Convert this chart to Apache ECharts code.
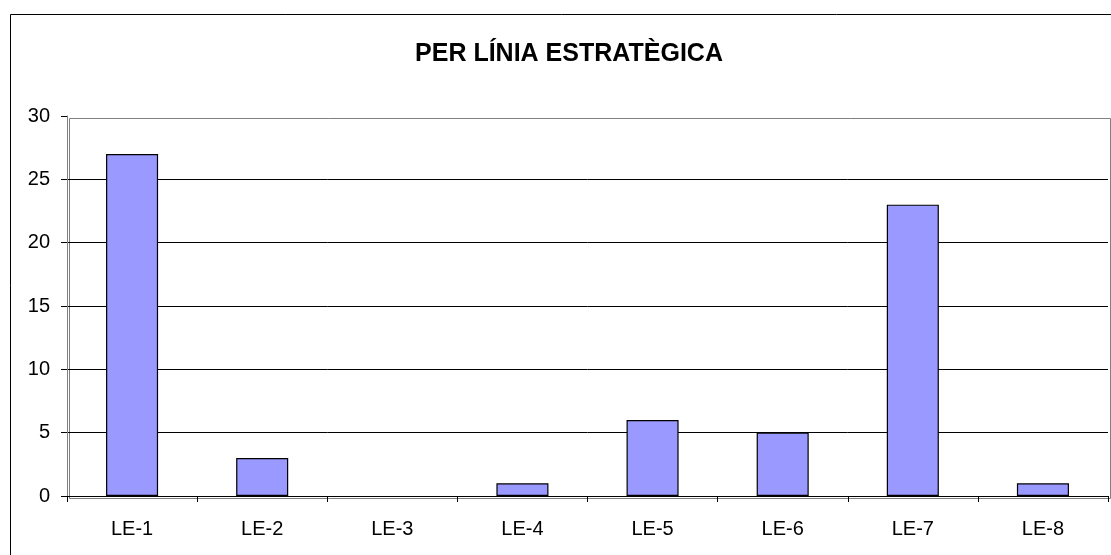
<!DOCTYPE html>
<html>
<head>
<meta charset="utf-8">
<script src="https://cdn.jsdelivr.net/npm/echarts@6/dist/echarts.min.js"></script>
<style>
html,body{margin:0;padding:0;background:#fff;}
#chart{width:1111px;height:555px;}
</style>
</head>
<body>
<div id="chart"></div>
<script>
var titleText = 'PER LÍNIA ESTRATÈGICA';
var categories = ['LE-1','LE-2','LE-3','LE-4','LE-5','LE-6','LE-7','LE-8'];
var values = [27, 3, 0, 1, 6, 5, 23, 1];
var yTicks = [0, 5, 10, 15, 20, 25, 30];

var barData = values.map(function (v) {
  return v === 0 ? {value: v, itemStyle: {borderWidth: 0}} : v;
});

var chart = echarts.init(document.getElementById('chart'), null, {renderer:'canvas'});
chart.setOption({
  animation: false,
  backgroundColor: '#fff',
  title: {
    text: titleText,
    left: 564, top: 37, textAlign: 'center',
    textStyle: {fontFamily: 'Liberation Sans, Arial', fontSize: 25, fontWeight: 'bold', color: '#000'}
  },
  graphic: [{
    type: 'rect', left: 8, top: 12, z: -1,
    shape: {x: 0, y: 0, width: 1200, height: 700},
    style: {fill: 'none', stroke: '#000', lineWidth: 1}
  }, {
    type: 'rect', left: 67, top: 116, z: 0,
    shape: {x: 0, y: 0, width: 1041, height: 380},
    style: {fill: 'none', stroke: '#808080', lineWidth: 1}
  }],
  grid: {left: 67, right: 3, top: 116, bottom: 59, containLabel: false},
  xAxis: {
    type: 'category', data: categories,
    axisLine: {lineStyle: {color: '#000', width: 1}},
    axisTick: {show: true, length: 6, lineStyle: {color: '#000'}, alignWithLabel: false},
    axisLabel: {fontFamily: 'Liberation Sans, Arial', fontSize: 20, color: '#000', margin: 23}
  },
  yAxis: {
    type: 'value', min: yTicks[0], max: yTicks[yTicks.length-1], interval: 5,
    axisLine: {show: true, lineStyle: {color: '#808080'}},
    axisTick: {show: true, length: 6, lineStyle: {color: '#000'}},
    axisLabel: {fontFamily: 'Liberation Sans, Arial', fontSize: 20, color: '#000', margin: 17},
    splitLine: {show: true, showMaxLine: false, lineStyle: {color: '#000', width: 1}}
  },
  series: [{
    type: 'bar', data: barData, barWidth: '40%',
    itemStyle: {color: '#9999FF', borderColor: '#000', borderWidth: 1.2}
  }]
});
</script>
</body>
</html>
